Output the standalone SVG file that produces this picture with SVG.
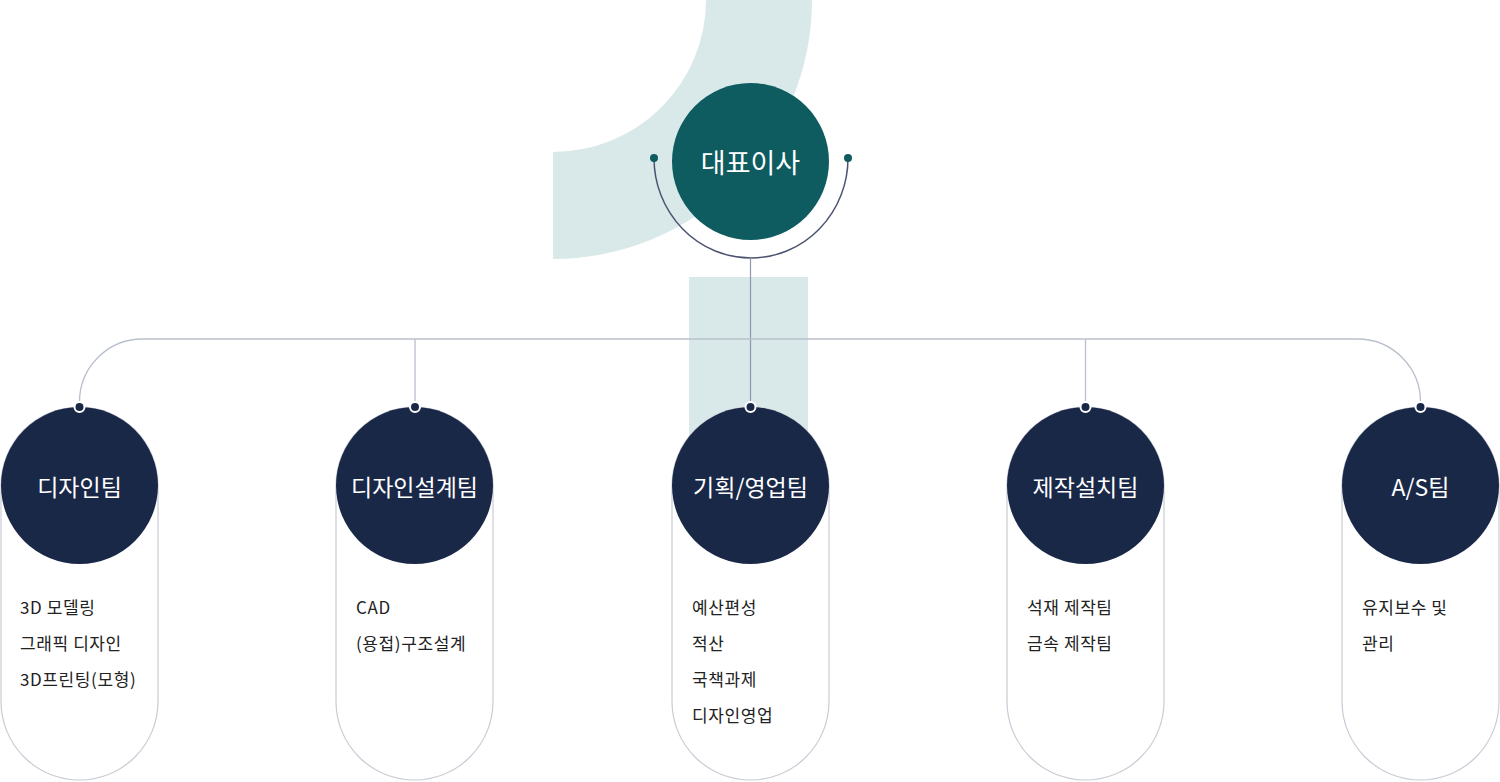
<svg xmlns="http://www.w3.org/2000/svg" width="1500" height="782" viewBox="0 0 1500 782">
  <style>
    .bg { fill: #d9e8e8; }
    .pill { fill: #ffffff; stroke: #c9ccd6; stroke-width: 1.2; }
    .node { fill: #1a2848; }
    .top { fill: #0e5c60; }
    .lbl { font-family: "Noto Sans CJK KR", "Noto Sans", sans-serif; fill: #ffffff; text-anchor: middle; font-size: 23px; }
    .sub { font-family: "Noto Sans CJK KR", "Noto Sans", sans-serif; fill: #222222; font-size: 17px; letter-spacing: 0.6px; }
    .conn { fill: none; stroke: #b9c0cc; stroke-width: 1.3; }
    .dot { fill: #1a2848; stroke: #ffffff; stroke-width: 2; }
  </style>

  <g id="background">
    <path class="bg" d="M553,0 L706,0 A153,152 0 0 1 553,152 L553,259 A259,259 0 0 0 812,0 L706,0 Z"/>
    <rect class="bg" x="689" y="277" width="119" height="165"/>
  </g>

  <g id="connectors">
    <path d="M654,158 A97,100 0 0 0 848,158" fill="none" stroke="#4d5472" stroke-width="1.5"/>
    <line x1="750.5" y1="258" x2="750.5" y2="402" stroke="#8f98ab" stroke-width="1.2"/>
    <path class="conn" d="M79.5,402 A63,63 0 0 1 142.5,339 L1357.5,339 A63,63 0 0 1 1420.5,402"/>
    <line class="conn" x1="415" y1="339" x2="415" y2="402"/>
    <line class="conn" x1="1085.5" y1="339" x2="1085.5" y2="402"/>
  </g>

  <g id="ceo">
    <circle class="top" cx="750.5" cy="161.5" r="78.5"/>
    <circle class="top" cx="654" cy="158" r="4"/>
    <circle class="top" cx="848" cy="158" r="4"/>
    <text class="lbl" x="750.5" y="173" style="font-size:27px">대표이사</text>
  </g>

  <g id="design-team">
    <rect class="pill" x="1" y="407" width="157" height="373" rx="78.5"/>
    <circle class="node" cx="79.5" cy="485.5" r="78.5"/>
    <circle class="dot" cx="79.5" cy="407" r="5"/>
    <text class="lbl" x="79.5" y="496">디자인팀</text>
    <text class="sub" x="20" y="614">3D 모델링</text>
    <text class="sub" x="20" y="650">그래픽 디자인</text>
    <text class="sub" x="20" y="686">3D프린팅(모형)</text>
  </g>

  <g id="design-engineering-team">
    <rect class="pill" x="336" y="407" width="157" height="373" rx="78.5"/>
    <circle class="node" cx="414.5" cy="485.5" r="78.5"/>
    <circle class="dot" cx="415" cy="407" r="5"/>
    <text class="lbl" x="414.5" y="496">디자인설계팀</text>
    <text class="sub" x="356" y="614">CAD</text>
    <text class="sub" x="356" y="650">(용접)구조설계</text>
  </g>

  <g id="planning-sales-team">
    <rect class="pill" x="672" y="407" width="157" height="373" rx="78.5"/>
    <circle class="node" cx="750.5" cy="485.5" r="78.5"/>
    <circle class="dot" cx="750.5" cy="407" r="5"/>
    <text class="lbl" x="750.5" y="496">기획/영업팀</text>
    <text class="sub" x="692" y="614">예산편성</text>
    <text class="sub" x="692" y="650">적산</text>
    <text class="sub" x="692" y="686">국책과제</text>
    <text class="sub" x="692" y="722">디자인영업</text>
  </g>

  <g id="production-team">
    <rect class="pill" x="1007" y="407" width="157" height="373" rx="78.5"/>
    <circle class="node" cx="1085.5" cy="485.5" r="78.5"/>
    <circle class="dot" cx="1085.5" cy="407" r="5"/>
    <text class="lbl" x="1085.5" y="496">제작설치팀</text>
    <text class="sub" x="1027" y="614">석재 제작팀</text>
    <text class="sub" x="1027" y="650">금속 제작팀</text>
  </g>

  <g id="as-team">
    <rect class="pill" x="1342" y="407" width="157" height="373" rx="78.5"/>
    <circle class="node" cx="1420.5" cy="485.5" r="78.5"/>
    <circle class="dot" cx="1420.5" cy="407" r="5"/>
    <text class="lbl" x="1420.5" y="496">A/S팀</text>
    <text class="sub" x="1362" y="614">유지보수 및</text>
    <text class="sub" x="1362" y="650">관리</text>
  </g>
</svg>
